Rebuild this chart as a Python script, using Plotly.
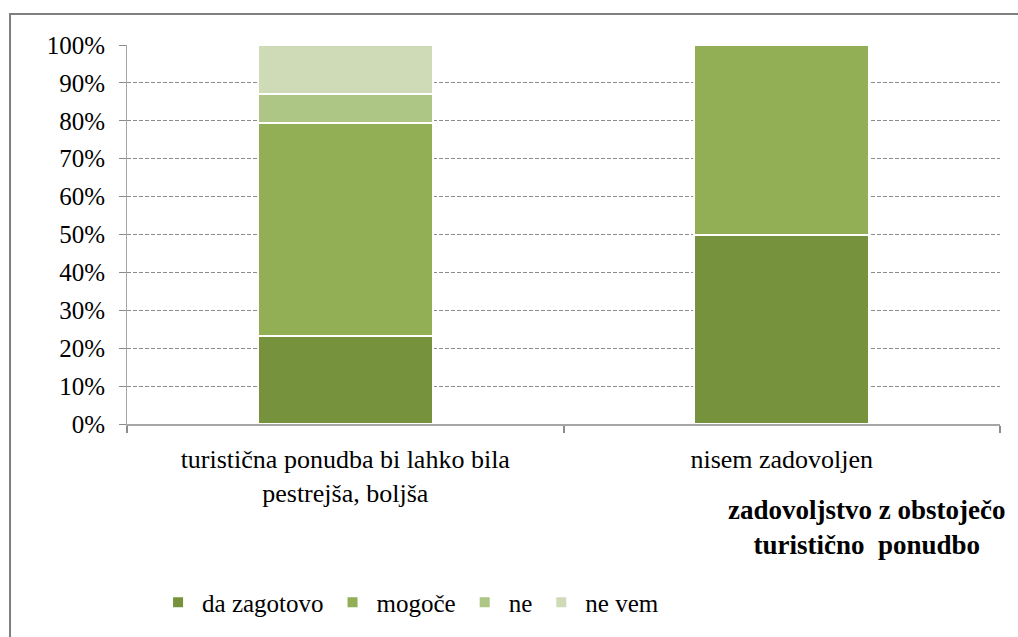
import plotly.graph_objects as go

# Stacked 100% column chart: interest in a better tourist offer by satisfaction level
categories = ["turistična ponudba bi lahko bila<br>pestrejša, boljša", "nisem zadovoljen"]
series_names = ["da zagotovo", "mogoče", "ne", "ne vem"]
da_zagotovo = [23.1, 50.0]
mogoce = [56.4, 50.0]
ne = [7.7, 0.0]
ne_vem = [12.8, 0.0]
series_values = [da_zagotovo, mogoce, ne, ne_vem]
colors = ["#77923C", "#92AF55", "#ADC585", "#CFDBB7"]
y_ticks = list(range(0, 101, 10))
y_tick_labels = [f"{v}%" for v in y_ticks]

FONT = "Liberation Serif"

fig = go.Figure()
for name, vals, col in zip(series_names, series_values, colors):
    fig.add_trace(go.Bar(
        x=categories, y=vals, name=name,
        marker=dict(color=col, line=dict(color="white", width=2)),
        hoverinfo="skip",
    ))

fig.update_layout(
    barmode="stack",
    bargap=0.6,
    width=1018, height=637,
    margin=dict(l=127, r=18, t=45, b=213),
    paper_bgcolor="white", plot_bgcolor="white",
    font=dict(family=FONT, size=25, color="black"),
    showlegend=True,
    legend=dict(
        orientation="h", x=0.031, xanchor="left", y=-0.471, yanchor="middle",
        itemwidth=38,
        font=dict(family=FONT, size=25, color="black"),
        traceorder="normal", itemclick=False, itemdoubleclick=False,
    ),
    xaxis=dict(
        showline=True, linecolor="#A6A6A6", linewidth=2,
        ticks="outside", tickson="boundaries", ticklen=7, tickcolor="#8C8C8C", tickwidth=2,
        tickfont=dict(family=FONT, size=26, color="black"),
        ticklabelstandoff=11,
        showgrid=False,
    ),
    yaxis=dict(
        range=[0, 100], tickvals=y_ticks, ticktext=y_tick_labels,
        showline=True, linecolor="#A6A6A6", linewidth=1,
        ticks="outside", ticklen=7, tickcolor="#8C8C8C",
        tickfont=dict(family=FONT, size=25, color="black"),
        ticklabelstandoff=9,
        showgrid=True, gridcolor="#8C8C8C", gridwidth=1, griddash="4px,2px",
        zeroline=False,
    ),
    annotations=[dict(
        text="<b>zadovoljstvo z obstoječo<br>turistično  ponudbo</b>",
        xref="paper", yref="paper", x=0.847, y=-0.272, xanchor="center", yanchor="middle",
        showarrow=False, font=dict(family=FONT, size=27, color="black"), align="center",
    )],
    shapes=[dict(
        type="rect", xref="paper", yref="paper",
        x0=-0.134, x1=1.1, y0=-0.7, y1=1.0816,
        line=dict(color="#7F7F7F", width=2), fillcolor="rgba(0,0,0,0)", layer="below",
    )],
)

fig.write_html("out.html")
